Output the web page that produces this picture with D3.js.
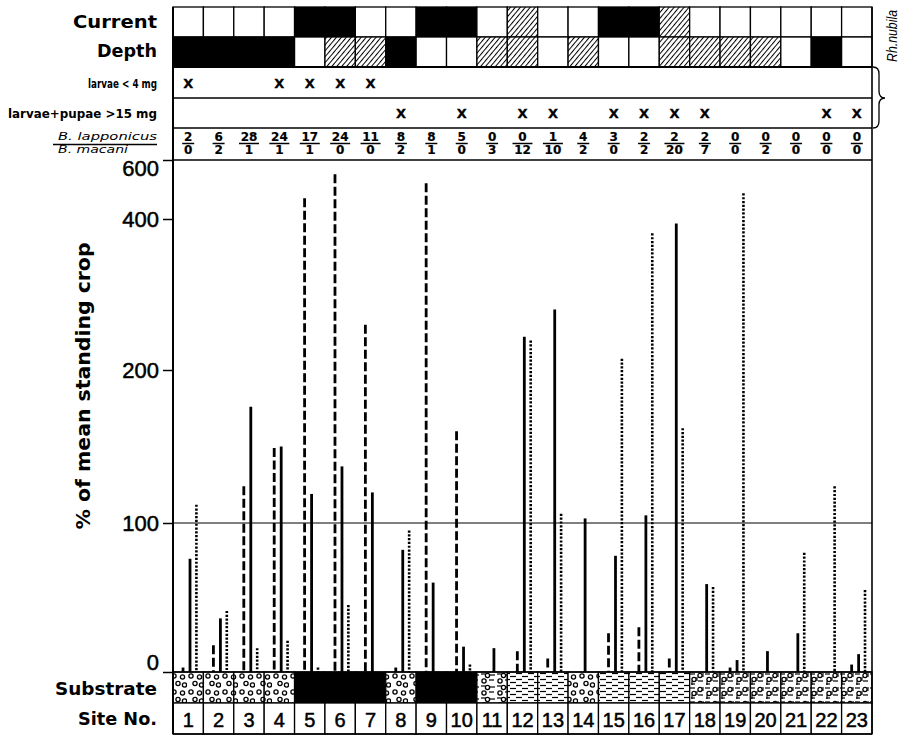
<!DOCTYPE html>
<html>
<head>
<meta charset="utf-8">
<script src="https://cdn.jsdelivr.net/npm/d3@7"></script>
<style>
  body { margin: 0; background: #fff; }
  svg { display: block; }
</style>
</head>
<body>
<div id="chart"></div>
<script>
// ---- data ----
var sites = d3.range(1, 24)

// w = open, b = black, h = hatched
var current = ['w','w','w','w','b','b','w','w','b','b','w','h','w','w','b','b','h','w','w','w','w','w','w']
var depth   = ['b','b','b','b','w','h','h','b','w','w','h','h','w','h','w','w','h','h','h','h','w','b','w']

// Rh. nubila present
var smallLarvae = [1, 4, 5, 6, 7]
var largeLarvae = [8, 10, 12, 13, 15, 16, 17, 18, 22, 23]

var lapponicus = [2, 6, 28, 24, 17, 24, 11, 8, 8, 5, 0, 0, 1, 4, 3, 2, 2, 2, 0, 0, 0, 0, 0]
var macani     = [0, 2, 1, 1, 1, 0, 0, 2, 1, 0, 3, 12, 10, 2, 0, 2, 20, 7, 0, 2, 0, 0, 0]

var substrate = ['gravel','gravel','gravel','gravel','rock','rock','rock','gravel','rock','rock',
  'sandgravel','silt','silt','gravel','silt','silt','silt','mixed','mixed','mixed','mixed','mixed','mixed']

// % of mean standing crop (null = no bar)
var dashedVals = [3, 18, 124, 149, 470, 552, 260, 3, 521, 160, null, 14, 9, null, 26, 30, 9, null, 3, null, null, null, 5]
var solidVals  = [76, 36, 176, 150, 119, 137, 120, 82, 60, 17, 16, 244, 280, 103, 78, 105, 394, 59, 8, 14, 26, null, 12]
var dottedVals = [112, 41, 16, 21, 3, 45, null, 95, null, 5, null, 239, 106, null, 215, 381, 162, 57, 487, null, 80, 124, 55]

var yTicks = [0, 100, 200, 400, 600]

// ---- layout ----
var width = 903, height = 736
var left = 173, right = 872
var rows = { top: 7, depth: 37, small: 67, large: 98, ratio: 128, plotTop: 160, base: 672, site: 703, bottom: 734 }

var bold = "'DejaVu Sans', sans-serif"
var plain = "'Liberation Sans', Arial, sans-serif"

var svg = d3.select("#chart").append("svg")
  .attr("width", width)
  .attr("height", height)
  .style("background", "#fff")

var x = d3.scaleBand().domain(sites).range([left, right])
// the original axis is stretched in pieces
var y = d3.scaleLinear().domain(yTicks).range([672, 523, 370, 219, 160])

// ---- patterns ----
var defs = svg.append("defs")

var hatch = defs.append("pattern").attr("id", "hatch")
  .attr("patternUnits", "userSpaceOnUse").attr("width", 3.8).attr("height", 10)
  .attr("patternTransform", "rotate(40)")
hatch.append("rect").attr("width", 3.8).attr("height", 10).attr("fill", "#fff")
hatch.append("line").attr("x1", 0.5).attr("y1", 0).attr("x2", 0.5).attr("y2", 10)
  .attr("stroke", "#000").attr("stroke-width", 1)

function tile(id, w, h) {
  var p = defs.append("pattern").attr("id", id)
    .attr("patternUnits", "userSpaceOnUse").attr("width", w).attr("height", h)
  p.append("rect").attr("width", w).attr("height", h).attr("fill", "#fff")
  return p
}
function ring(p, cx, cy) {
  p.append("circle").attr("cx", cx).attr("cy", cy).attr("r", 2.1)
    .attr("fill", "none").attr("stroke", "#000").attr("stroke-width", 1.3)
}
function dash(p, x1, x2, yy) {
  p.append("line").attr("x1", x1).attr("x2", x2).attr("y1", yy).attr("y2", yy)
    .attr("stroke", "#000").attr("stroke-width", 1.2)
}
function tick(p, xx, y1, y2) {
  p.append("line").attr("x1", xx).attr("x2", xx).attr("y1", y1).attr("y2", y2)
    .attr("stroke", "#000").attr("stroke-width", 1.1)
}

var gravel = tile("gravel", 17, 16)
ring(gravel, 4, 4); ring(gravel, 12.5, 5); ring(gravel, 8, 11.5); ring(gravel, 14.5, 13)

var silt = tile("silt", 12, 6)
dash(silt, 0, 6, 1.5); dash(silt, 6, 12, 4.5)

var sandgravel = tile("sandgravel", 16, 12)
dash(sandgravel, 1, 6, 2); dash(sandgravel, 9, 14, 8); dash(sandgravel, 10, 15, 3)
ring(sandgravel, 7.5, 3.5); ring(sandgravel, 4, 9)

var mixed = tile("mixed", 15, 14)
dash(mixed, 0, 5, 2); dash(mixed, 8, 13, 9); dash(mixed, 1, 5, 12)
ring(mixed, 10, 3.5); ring(mixed, 4, 7.5)
tick(mixed, 7, 5, 9); tick(mixed, 13, 1, 5); tick(mixed, 2, 9, 13)

var fills = { w: "#fff", b: "#000", h: "url(#hatch)" }
var subFills = { gravel: "url(#gravel)", rock: "#000", silt: "url(#silt)", sandgravel: "url(#sandgravel)", mixed: "url(#mixed)" }

// ---- current / depth cells ----
svg.selectAll("rect.current").data(sites).enter().append("rect")
  .attr("class", "current")
  .attr("x", d => x(d)).attr("y", rows.top)
  .attr("width", x.bandwidth()).attr("height", rows.depth - rows.top)
  .attr("fill", (d, i) => fills[current[i]])
  .attr("stroke", "#000").attr("stroke-width", 1.3)

svg.selectAll("rect.depth").data(sites).enter().append("rect")
  .attr("class", "depth")
  .attr("x", d => x(d)).attr("y", rows.depth)
  .attr("width", x.bandwidth()).attr("height", rows.small - rows.depth)
  .attr("fill", (d, i) => fills[depth[i]])
  .attr("stroke", "#000").attr("stroke-width", 1.3)

// ---- substrate and site number cells ----
svg.selectAll("rect.sub").data(sites).enter().append("rect")
  .attr("class", "sub")
  .attr("x", d => x(d)).attr("y", rows.base)
  .attr("width", x.bandwidth()).attr("height", rows.site - rows.base)
  .attr("fill", (d, i) => subFills[substrate[i]])
  .attr("stroke", "#000").attr("stroke-width", 1.3)

svg.selectAll("rect.site").data(sites).enter().append("rect")
  .attr("class", "site")
  .attr("x", d => x(d)).attr("y", rows.site)
  .attr("width", x.bandwidth()).attr("height", rows.bottom - rows.site)
  .attr("fill", "#fff")
  .attr("stroke", "#000").attr("stroke-width", 1.3)

svg.selectAll("text.siteNo").data(sites).enter().append("text")
  .attr("class", "siteNo")
  .attr("x", d => x(d) + x.bandwidth() / 2).attr("y", 727)
  .attr("text-anchor", "middle")
  .style("font-family", plain).style("font-size", "20px")
  .attr("stroke", "#000").attr("stroke-width", 0.5)
  .text(d => d)

// ---- frame lines ----
function hline(yy, x1, x2, w) {
  svg.append("line").attr("x1", x1).attr("x2", x2).attr("y1", yy).attr("y2", yy)
    .attr("stroke", "#000").attr("stroke-width", w)
}
hline(rows.small, left, right, 2)
hline(rows.large, left, right, 1.3)
hline(rows.ratio, left, right, 1.3)
hline(rows.plotTop, left, right, 1.6)
hline(y(100), left, right, 1.2)
hline(rows.base, left, right, 1.6)
hline(rows.bottom, left, right, 1.6)

svg.append("line").attr("x1", left).attr("x2", left).attr("y1", rows.top).attr("y2", rows.bottom)
  .attr("stroke", "#000").attr("stroke-width", 2)
svg.append("line").attr("x1", right).attr("x2", right).attr("y1", rows.top).attr("y2", rows.bottom)
  .attr("stroke", "#000").attr("stroke-width", 1.6)

// ---- X marks for Rh. nubila ----
svg.selectAll("text.xs").data(smallLarvae).enter().append("text")
  .attr("x", d => x(d) + x.bandwidth() / 2).attr("y", 88)
  .attr("text-anchor", "middle")
  .style("font-family", bold).style("font-weight", "bold").style("font-size", "13px")
  .attr("stroke", "#000").attr("stroke-width", 0.3)
  .text("X")

svg.selectAll("text.xl").data(largeLarvae).enter().append("text")
  .attr("x", d => x(d) + x.bandwidth() / 2).attr("y", 118)
  .attr("text-anchor", "middle")
  .style("font-family", bold).style("font-weight", "bold").style("font-size", "13px")
  .attr("stroke", "#000").attr("stroke-width", 0.3)
  .text("X")

// ---- lapponicus / macani fractions ----
var frac = svg.selectAll("g.frac").data(sites).enter().append("g")
  .attr("transform", d => "translate(" + (x(d) + x.bandwidth() / 2) + ",0)")
frac.append("text").attr("y", 141).attr("text-anchor", "middle")
  .style("font-family", bold).style("font-weight", "bold").style("font-size", "12px")
  .attr("stroke", "#000").attr("stroke-width", 0.2)
  .text((d, i) => lapponicus[i])
frac.append("text").attr("y", 154).attr("text-anchor", "middle")
  .style("font-family", bold).style("font-weight", "bold").style("font-size", "12px")
  .attr("stroke", "#000").attr("stroke-width", 0.2)
  .text((d, i) => macani[i])
frac.append("line")
  .attr("x1", (d, i) => -Math.max(String(lapponicus[i]).length, String(macani[i]).length) * 4 - 2)
  .attr("x2", (d, i) => Math.max(String(lapponicus[i]).length, String(macani[i]).length) * 4 + 2)
  .attr("y1", 143.5).attr("y2", 143.5)
  .attr("stroke", "#000").attr("stroke-width", 1.5)

// ---- bars ----
var series = [
  { values: dashedVals, offset: 0.33, dash: "9,3.5", w: 2.8 },
  { values: solidVals, offset: 0.56, dash: null, w: 2.8 },
  { values: dottedVals, offset: 0.77, dash: "2.2,1.6", w: 2.6 }
]

series.forEach(function (s) {
  var pts = sites.map((d, i) => ({ site: d, v: s.values[i] })).filter(p => p.v != null)
  svg.selectAll(null).data(pts).enter().append("line")
    .attr("x1", p => x(p.site) + x.bandwidth() * s.offset)
    .attr("x2", p => x(p.site) + x.bandwidth() * s.offset)
    .attr("y1", p => y(p.v))
    .attr("y2", y(0))
    .attr("stroke", "#000")
    .attr("stroke-width", s.w)
    .attr("stroke-dasharray", s.dash)
})

// ---- y axis ----
var axis = svg.append("g")
  .attr("transform", "translate(" + left + ",0)")
  .call(d3.axisLeft(y).tickValues(yTicks).tickSize(10).tickSizeOuter(0).tickPadding(4))
axis.select(".domain").remove()
axis.selectAll(".tick line").attr("stroke", "#000").attr("stroke-width", 1.5)
axis.selectAll(".tick text")
  .style("font-family", plain).style("font-size", "22px")
  .attr("fill", "#000").attr("stroke", "#000").attr("stroke-width", 0.5)
  .attr("dy", d => d == 600 ? "0.72em" : d == 0 ? "-0.1em" : "0.35em")

svg.append("text")
  .attr("transform", "translate(90,386) rotate(-90)")
  .attr("text-anchor", "middle")
  .attr("textLength", 287).attr("lengthAdjust", "spacingAndGlyphs")
  .style("font-family", bold).style("font-weight", "bold").style("font-size", "20px")
  .text("% of mean standing crop")

// ---- row labels ----
function label(txt, xx, yy, size, len, opts) {
  opts = opts || {}
  return svg.append("text")
    .attr("x", xx).attr("y", yy)
    .attr("text-anchor", opts.anchor || "end")
    .attr("textLength", len).attr("lengthAdjust", "spacingAndGlyphs")
    .style("font-family", bold)
    .style("font-weight", opts.italic ? "normal" : "bold")
    .style("font-style", opts.italic ? "italic" : "normal")
    .style("font-size", size + "px")
    .text(txt)
}
label("Current", 157, 28, 18, 84)
label("Depth", 157, 57, 18, 60)
label("larvae < 4 mg", 157, 87.5, 11.5, 69)
label("larvae+pupae >15 mg", 157, 117.5, 11.5, 149)
label("B. lapponicus", 58, 139.5, 11, 99, { anchor: "start", italic: true })
label("B. macani", 58, 153, 11, 70, { anchor: "start", italic: true })
hline(144.5, 53, 157, 1.4)
label("Substrate", 157, 695, 18, 102)
label("Site No.", 157, 725, 18, 79)

// ---- Rh. nubila brace ----
svg.append("path")
  .attr("d", "M873,67 Q879,67 879,74 L879,91 Q879,98 885,98 Q879,98 879,105 L879,121 Q879,128 873,128")
  .attr("fill", "none").attr("stroke", "#000").attr("stroke-width", 1.3)
svg.append("text")
  .attr("transform", "translate(897,36) rotate(-90)")
  .attr("text-anchor", "middle")
  .attr("textLength", 52).attr("lengthAdjust", "spacingAndGlyphs")
  .style("font-family", plain).style("font-style", "italic").style("font-size", "14px")
  .text("Rh.nubila")
</script>
</body>
</html>
